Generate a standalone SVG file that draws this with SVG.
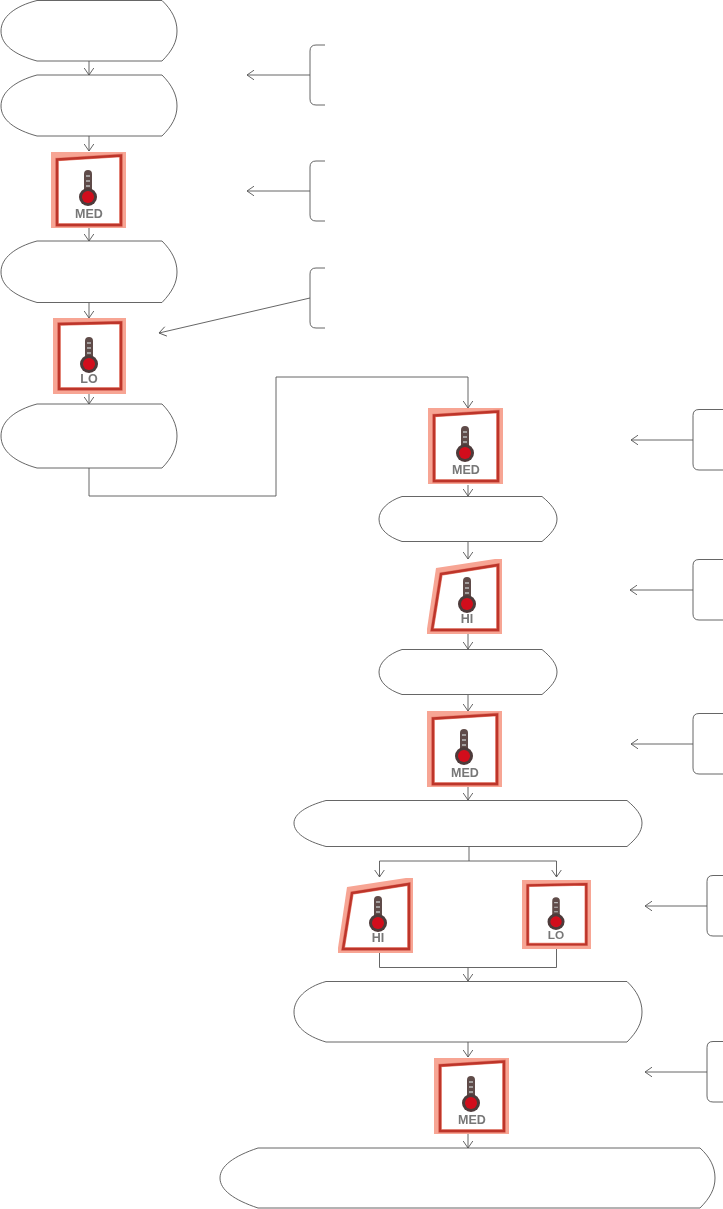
<svg xmlns="http://www.w3.org/2000/svg" width="723" height="1209" viewBox="0 0 723 1209">
<style>
.n{fill:#fff;stroke:#555;stroke-width:.9}
.c{fill:none;stroke:#555;stroke-width:.9}
.o{fill:#f7a594}
.g{fill:#fff;stroke:#e8806f;stroke-width:3.6}
.b{fill:none;stroke:#bd352c;stroke-width:2.4}
.t{font:bold 12.5px "Liberation Sans",Arial,sans-serif;fill:#777;text-anchor:middle}
.tube{fill:#5f4c48}
.ball{fill:#4e3a3a}
.red{fill:#d2101c}
</style>
<defs>
<marker id="a" markerUnits="userSpaceOnUse" markerWidth="14" markerHeight="14" refX="10" refY="7" orient="auto">
<path d="M3 2.2L10 7L3 11.8" fill="none" stroke="#555" stroke-width=".9"/>
</marker>
<filter id="s" x="-5%" y="-5%" width="110%" height="110%"><feGaussianBlur stdDeviation=".6"/></filter>
<g id="th">
<rect x="-4" y="0" width="8" height="26" rx="4" class="tube"/>
<path d="M-2 6h4M-2 11h4M-2 16h4" stroke="#bbb" stroke-width="1.3"/>
<circle cy="27" r="9" class="ball"/><circle cy="27" r="6" class="red"/>
</g>
<g id="med" filter="url(#s)">
<rect width="75" height="76" class="o"/>
<path d="M6 7.500L70 3.500V73H6Z" class="g"/>
<path d="M6 7.500L70 3.500V73H6Z" class="b"/>
<use href="#th" x="37" y="18"/>
<text x="38" y="66" class="t">MED</text>
</g>
<g id="lo" filter="url(#s)">
<rect width="73" height="76" class="o"/>
<path d="M6 6L68 4.500V71H6Z" class="g"/>
<path d="M6 6L68 4.500V71H6Z" class="b"/>
<use href="#th" x="36" y="19"/>
<text x="36" y="65" class="t">LO</text>
</g>
<g id="hi" filter="url(#s)">
<path d="M9 9L68 0H75V75H0V70Z" class="o"/>
<path d="M14 15L71 6V71H5Z" class="g"/>
<path d="M14 15L71 6V71H5Z" class="b"/>
<use href="#th" x="40" y="18"/>
<text x="40" y="64" class="t">HI</text>
</g>
</defs>

<g id="connectors" class="c">
<path class="c" marker-end="url(#a)" d="M89 61V75"/>
<path class="c" marker-end="url(#a)" d="M89 136V151"/>
<path class="c" marker-end="url(#a)" d="M89 228V241"/>
<path class="c" marker-end="url(#a)" d="M89 302V318"/>
<path class="c" marker-end="url(#a)" d="M89 394V404"/>
<path class="c" marker-end="url(#a)" d="M89 468V496H276V377H468V408"/>
<path class="c" marker-end="url(#a)" d="M468 485V496"/>
<path class="c" marker-end="url(#a)" d="M468 542V559"/>
<path class="c" marker-end="url(#a)" d="M468 634V649"/>
<path class="c" marker-end="url(#a)" d="M468 695V711"/>
<path class="c" marker-end="url(#a)" d="M468 787V800"/>
<path class="c" d="M469 847V861"/>
<path class="c" marker-end="url(#a)" d="M469 861H379.500V877"/>
<path class="c" marker-end="url(#a)" d="M469 861H556.500V877"/>
<path class="c" d="M379.500 953V967.500H556.500V949"/>
<path class="c" marker-end="url(#a)" d="M468 967.500V981"/>
<path class="c" marker-end="url(#a)" d="M468 1042V1057"/>
<path class="c" marker-end="url(#a)" d="M468 1134V1148"/>
<path class="c" marker-end="url(#a)" d="M310 75H247"/>
<path class="c" marker-end="url(#a)" d="M310 191H247"/>
<path class="c" marker-end="url(#a)" d="M310 298L159 333"/>
<path class="c" marker-end="url(#a)" d="M693 440H631"/>
<path class="c" marker-end="url(#a)" d="M693 590H630"/>
<path class="c" marker-end="url(#a)" d="M693 744H631"/>
<path class="c" marker-end="url(#a)" d="M707 906H645"/>
<path class="c" marker-end="url(#a)" d="M707 1072H645"/>
</g>

<g id="n1"><path class="n" d="M37 .5C15 6 1 17 1 31C1 45 15 55 37 61H162C172 51 177 42 177 31C177 20 172 10 162 .5Z"/></g>
<g id="n2"><path class="n" d="M37 75C15 81 1 92 1 106C1 120 15 130 37 136H162C172 126 177 117 177 106C177 95 172 85 162 75Z"/></g>
<g id="i1"><use href="#med" x="51" y="152"/></g>
<g id="n3"><path class="n" d="M37 241C15 247 1 258 1 272C1 286 15 296 37 302.500H162C172 292 177 283 177 272C177 261 172 251 162 241Z"/></g>
<g id="i2"><use href="#lo" x="53" y="318"/></g>
<g id="n4"><path class="n" d="M37 404C15 410 1 421 1 436C1 451 15 462 37 468H162C172 458 177 447 177 436C177 425 172 414 162 404Z"/></g>
<g id="i3"><use href="#med" x="428" y="408"/></g>
<g id="n5"><path class="n" d="M402 496.500C388 501 379 510 379 519C379 529 388 537 402 541.500H542C551 534 557 527 557 519C557 511 551 504 542 496.500Z"/></g>
<g id="i4"><use href="#hi" x="427" y="559"/></g>
<g id="n6"><path class="n" d="M402 649.500C388 654 379 663 379 672C379 682 388 690 402 694.500H542C551 687 557 680 557 672C557 664 551 657 542 649.500Z"/></g>
<g id="i5"><use href="#med" x="427" y="711"/></g>
<g id="n7"><path class="n" d="M326 800.500C306 806 294 814 294 823C294 833 306 841 326 846.500H627C636 839 642 832 642 823C642 815 636 808 627 800.500Z"/></g>
<g id="i6"><use href="#hi" x="338" y="878"/></g>
<g id="i7"><use href="#lo" transform="translate(522 880) scale(.945 .908)"/></g>
<g id="n8"><path class="n" d="M326 981.500C306 987 294 999 294 1012C294 1026 306 1036 326 1042H627C637 1032 642 1023 642 1012C642 1001 637 991 627 981.500Z"/></g>
<g id="i8"><use href="#med" x="434" y="1058"/></g>
<g id="n9"><path class="n" d="M258 1148C234 1156 220 1166 220 1178C220 1190 234 1200 258 1208H700C710 1198 715 1189 715 1178C715 1167 710 1157 700 1148Z"/></g>

<g id="b1"><path class="c" d="M325 45H316Q310 45 310 51V99Q310 105 316 105H325"/></g>
<g id="b2"><path class="c" d="M325 161H316Q310 161 310 167V215Q310 221 316 221H325"/></g>
<g id="b3"><path class="c" d="M325 268H316Q310 268 310 274V322Q310 328 316 328H325"/></g>
<g id="b4"><path class="c" d="M723 409.500H699Q693 409.500 693 415.500V464Q693 470 699 470H723"/></g>
<g id="b5"><path class="c" d="M723 559.500H699Q693 559.500 693 565.500V614Q693 620 699 620H723"/></g>
<g id="b6"><path class="c" d="M723 713.500H699Q693 713.500 693 719.500V768Q693 774 699 774H723"/></g>
<g id="b7"><path class="c" d="M723 875.500H713Q707 875.500 707 881.500V930Q707 936 713 936H723"/></g>
<g id="b8"><path class="c" d="M723 1041.500H713Q707 1041.500 707 1047.500V1096Q707 1102 713 1102H723"/></g>
</svg>
